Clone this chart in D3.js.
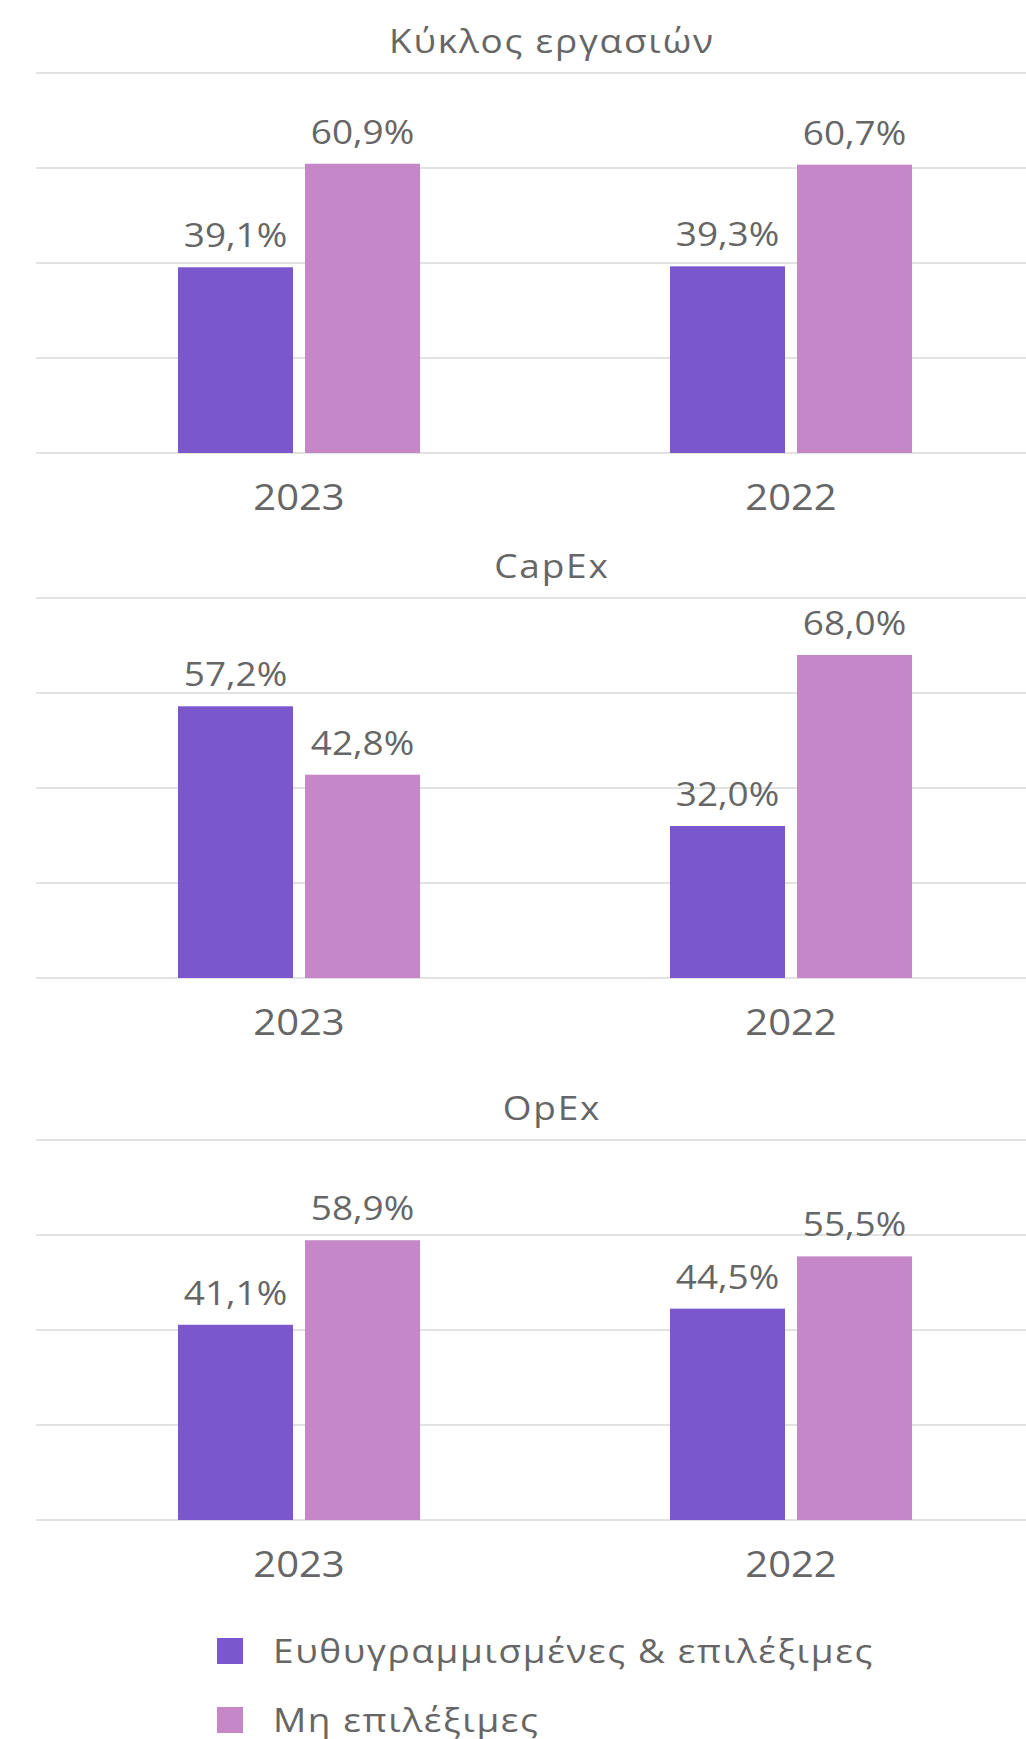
<!DOCTYPE html>
<html>
<head>
<meta charset="utf-8">
<script src="https://cdn.jsdelivr.net/npm/d3@7"></script>
<style>
  html, body { margin: 0; padding: 0; background: #ffffff; }
  svg { display: block; }
  text { font-family: "Open Sans", "Noto Sans", sans-serif; fill: #666666; }
</style>
</head>
<body>
<svg id="chart" width="1026" height="1739"></svg>
<script>
// Taxonomy shares per KPI, by year
const panels = ["Κύκλος εργασιών", "CapEx", "OpEx"];
const years = ["2023", "2022"];
const seriesNames = ["Ευθυγραμμισμένες & επιλέξιμες", "Μη επιλέξιμες"];
// values[year] = [aligned & eligible, not eligible]
const turnoverValues = [[39.1, 60.9], [39.3, 60.7]];
const capexValues = [[57.2, 42.8], [32.0, 68.0]];
const opexValues = [[41.1, 58.9], [44.5, 55.5]];
const yTicks = [0, 20, 40, 60, 80];

const panelValues = [turnoverValues, capexValues, opexValues];
const colors = ["#7B57CE", "#C587C8"];

const svg = d3.select("#chart");
const gridLeft = 36, gridRight = 1026;
const plotH = 380;
const panelTops = [73, 598, 1140];

const x0 = d3.scaleBand().domain(years).range([53, 1037])
  .paddingInner(0.508).paddingOuter(0.254);
const x1 = d3.scaleBand().domain(seriesNames).range([0, x0.bandwidth()])
  .paddingInner(0.0945);

const fmt = v => d3.format(".1f")(v).replace(".", ",") + "%";

// wide-set text: glyphs stretched horizontally plus a little tracking
function wide(sel, { x, y, size, stretch, spacing = 0, anchor = "middle" }) {
  return sel
    .attr("transform", d => `translate(${typeof x === "function" ? x(d) : x},${typeof y === "function" ? y(d) : y}) scale(${stretch},1)`)
    .attr("text-anchor", anchor)
    .attr("dx", anchor === "middle" ? spacing / 2 : 0)
    .style("font-size", size + "px")
    .style("letter-spacing", spacing + "px");
}

panels.forEach((title, pi) => {
  const top = panelTops[pi];
  const y = d3.scaleLinear().domain([0, 80]).range([top + plotH, top]);
  const g = svg.append("g");

  // title
  g.append("text")
    .call(wide, { x: 551, y: top - 20, size: 33, stretch: 1.12, spacing: 1.6 })
    .text(title);

  // horizontal gridlines
  g.selectAll("line.grid").data(yTicks).join("line")
    .attr("class", "grid")
    .attr("x1", gridLeft).attr("x2", gridRight)
    .attr("y1", d => y(d)).attr("y2", d => y(d))
    .attr("stroke", "#d9d9d9").attr("stroke-width", 1.5);

  // bars
  const rows = years.map((yr, yi) => ({ yr, vals: panelValues[pi][yi] }));
  const grp = g.selectAll("g.year").data(rows).join("g")
    .attr("transform", d => `translate(${x0(d.yr)},0)`);

  grp.selectAll("rect").data(d => d.vals.map((v, si) => ({ v, s: seriesNames[si], si })))
    .join("rect")
    .attr("x", d => x1(d.s))
    .attr("width", x1.bandwidth())
    .attr("y", d => y(d.v))
    .attr("height", d => y(0) - y(d.v))
    .attr("fill", d => colors[d.si]);

  grp.selectAll("text.val").data(d => d.vals.map((v, si) => ({ v, s: seriesNames[si] })))
    .join("text")
    .attr("class", "val")
    .call(wide, {
      x: d => x1(d.s) + x1.bandwidth() / 2,
      y: d => y(d.v) - 20,
      size: 33, stretch: 1.12
    })
    .text(d => fmt(d.v));

  // year axis labels
  g.selectAll("text.year").data(years).join("text")
    .attr("class", "year")
    .call(wide, {
      x: d => x0(d) + x0.bandwidth() / 2,
      y: y(0) + 57,
      size: 37, stretch: 1.08
    })
    .text(d => d);
});

// legend
const legend = svg.append("g").attr("transform", "translate(217,1638)");
const li = legend.selectAll("g").data(seriesNames).join("g")
  .attr("transform", (d, i) => `translate(0,${i * 69})`);
li.append("rect").attr("width", 26).attr("height", 26)
  .attr("fill", (d, i) => colors[i]);
li.append("text")
  .call(wide, { x: 56, y: 25, size: 33, stretch: 1.12, spacing: 1.45, anchor: "start" })
  .text(d => d);
</script>
</body>
</html>
